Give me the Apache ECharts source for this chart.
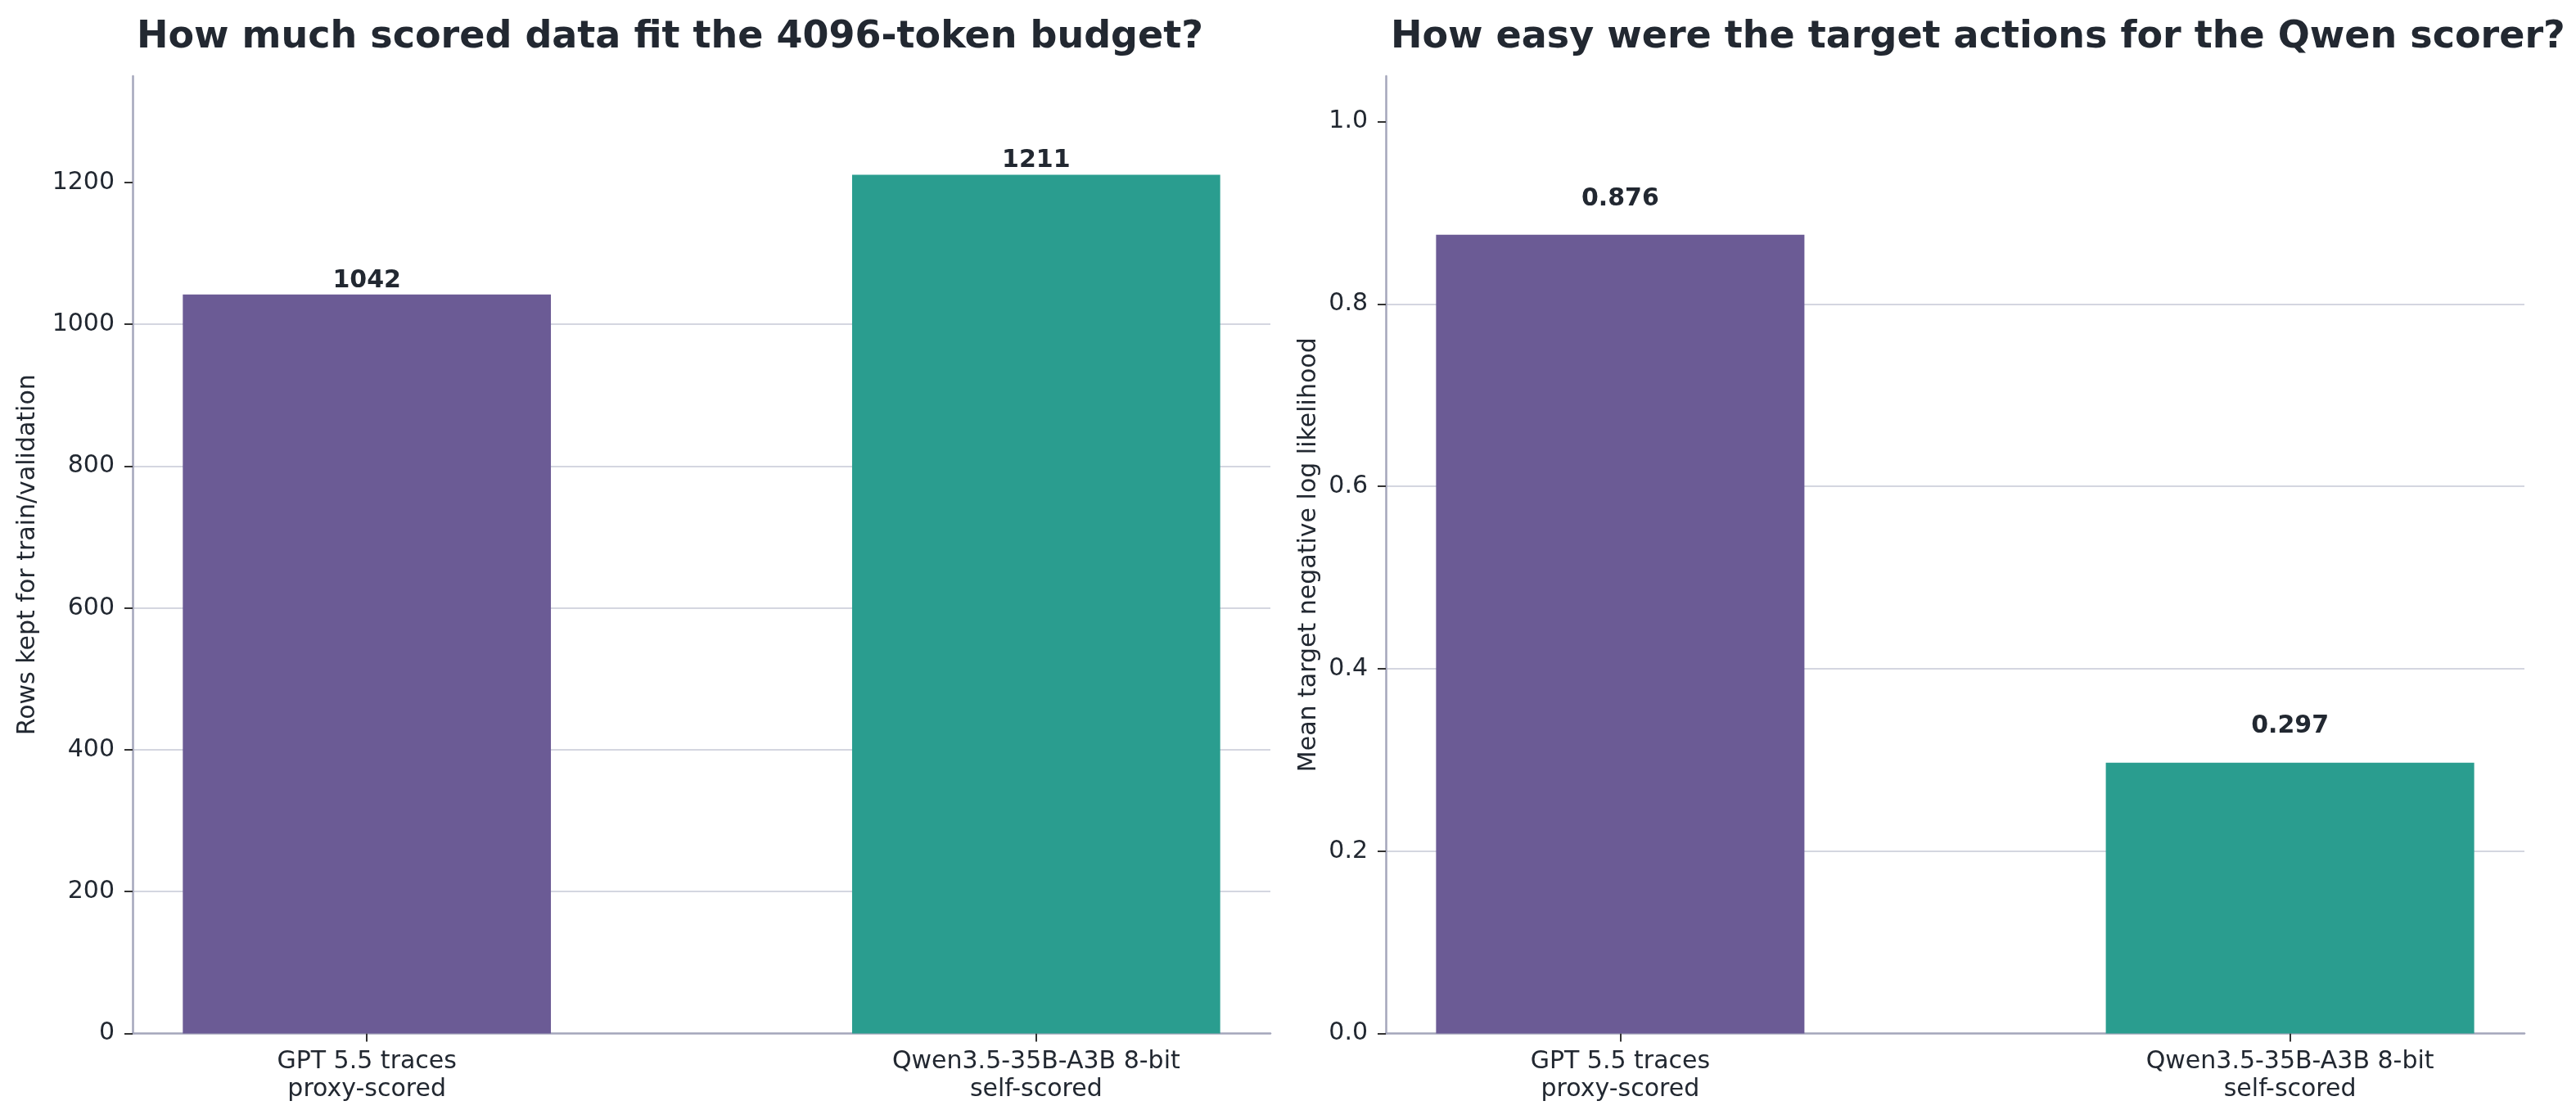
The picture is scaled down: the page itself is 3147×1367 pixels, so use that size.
<!DOCTYPE html>
<html>
<head>
<meta charset="utf-8">
<script src="https://cdn.jsdelivr.net/npm/echarts@6/dist/echarts.min.js"></script>
<style>
  html, body { margin: 0; padding: 0; background: #ffffff; }
  #chart { width: 3147px; height: 1367px; }
</style>
</head>
<body>
<div id="chart"></div>
<script>
// data
var categories = ['GPT 5.5 traces\nproxy-scored', 'Qwen3.5-35B-A3B 8-bit\nself-scored'];
var rowsKept = [1042, 1211];
var meanNll = [0.876, 0.297];
var barColors = ['#6b5b95', '#2a9d8f'];
var rowsTicks = [0, 200, 400, 600, 800, 1000, 1200];
var nllTicks = [0, 0.2, 0.4, 0.6, 0.8, 1.0];
var catPos = [0, 1];

var chart = echarts.init(document.getElementById('chart'));

var FONT = 'DejaVu Sans';
var TXT = '#222831';
var AXIS = '#a4a6bb';
var GRID = '#d4d6e0';

function toBars(values) {
    return values.map(function (v, i) {
        return { value: [catPos[i], v], itemStyle: { color: barColors[i] } };
    });
}

function xAxisFor(idx) {
    return {
        type: 'value',
        gridIndex: idx,
        min: -0.35,
        max: 1.35,
        axisLine: { show: true, onZero: false, lineStyle: { color: AXIS, width: 2.5 } },
        axisTick: { show: true, customValues: catPos, length: 10, lineStyle: { color: '#333', width: 2 } },
        axisLabel: {
            customValues: catPos,
            formatter: function (v) { return categories[Math.round(v)]; },
            fontFamily: FONT, fontSize: 30, color: TXT, lineHeight: 34, margin: 18
        },
        splitLine: { show: false }
    };
}

function yAxisFor(idx, name, max, interval, ticks, gap, digits) {
    return {
        type: 'value',
        gridIndex: idx,
        min: 0,
        max: max,
        interval: interval,
        name: name,
        nameLocation: 'middle',
        nameGap: gap,
        nameRotate: 90,
        nameTextStyle: { fontFamily: FONT, fontSize: 30, color: TXT },
        axisLine: { show: true, onZero: false, lineStyle: { color: AXIS, width: 2.5 } },
        axisTick: { show: true, customValues: ticks, length: 10, lineStyle: { color: '#333', width: 2 } },
        axisLabel: {
            customValues: ticks,
            formatter: function (v) { return v.toFixed(digits); },
            fontFamily: FONT, fontSize: 30, color: TXT, margin: 22
        },
        splitLine: { show: true, showMinLine: false, showMaxLine: false, lineStyle: { color: GRID, width: 2 } }
    };
}

var option = {
    backgroundColor: '#ffffff',
    animation: false,
    title: [
        { text: 'How much scored data fit the 4096-token budget?', left: 162, top: 18,
          textStyle: { fontFamily: FONT, fontWeight: 'bold', fontSize: 46, color: TXT } },
        { text: 'How easy were the target actions for the Qwen scorer?', left: 1694, top: 18,
          textStyle: { fontFamily: FONT, fontWeight: 'bold', fontSize: 46, color: TXT } }
    ],
    grid: [
        { left: 162, top: 93, width: 1390, height: 1169.5 },
        { left: 1693, top: 93, width: 1391, height: 1169.5 }
    ],
    xAxis: [xAxisFor(0), xAxisFor(1)],
    yAxis: [
        yAxisFor(0, 'Rows kept for train/validation', 1350, 200, rowsTicks, 113, 0),
        yAxisFor(1, 'Mean target negative log likelihood', 1.05, 0.2, nllTicks, 79, 1)
    ],
    series: [
        {
            type: 'bar', xAxisIndex: 0, yAxisIndex: 0, barWidth: '55%',
            data: toBars(rowsKept),
            label: { show: true, position: 'top', distance: 2,
                     fontFamily: FONT, fontWeight: 'bold', fontSize: 30, color: TXT,
                     formatter: function (p) { return String(p.value[1]); } }
        },
        {
            type: 'bar', xAxisIndex: 1, yAxisIndex: 1, barWidth: '55%',
            data: toBars(meanNll),
            label: { show: true, position: 'top', distance: 29,
                     fontFamily: FONT, fontWeight: 'bold', fontSize: 30, color: TXT,
                     formatter: function (p) { return p.value[1].toFixed(3); } }
        }
    ]
};

chart.setOption(option);
</script>
</body>
</html>
